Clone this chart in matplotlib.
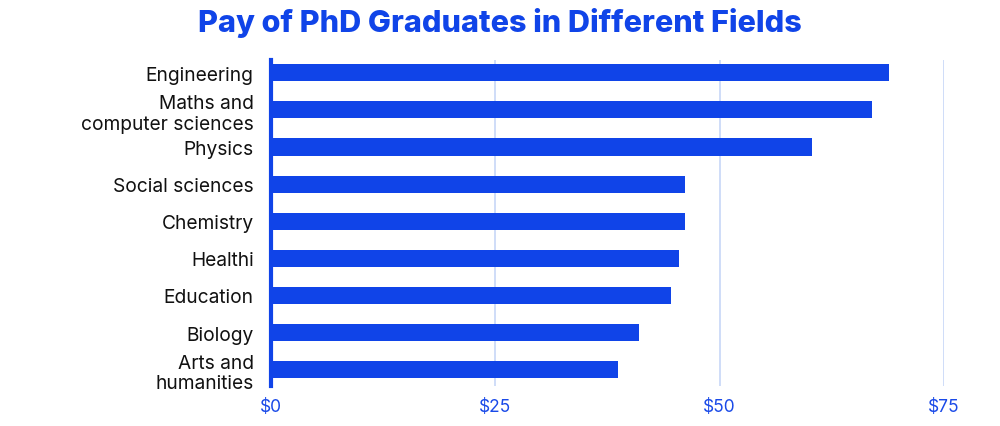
import matplotlib
matplotlib.use("Agg")
import matplotlib.pyplot as plt

categories = ["Engineering", "Maths and\ncomputer sciences", "Physics", "Social sciences",
              "Chemistry", "Healthi", "Education", "Biology", "Arts and\nhumanities"]
pay = [68.9, 67.0, 60.3, 46.1, 46.1, 45.5, 44.6, 41.0, 38.7]
xticks = [0, 25, 50, 75]
xtick_labels = ["$0", "$25", "$50", "$75"]

BLUE = "#1044E8"
TICK_BLUE = "#1A4AE8"
GRID = "#CCDAF8"

plt.rcParams['font.family'] = ['Inter', 'DejaVu Sans']

fig = plt.figure(figsize=(10, 4.27), dpi=100)
ax = fig.add_axes([0.271, 0.0937, 0.673, 0.763])

ypos = list(range(len(categories)))
ax.barh(ypos, pay, height=0.46, color=BLUE, zorder=3)
ax.set_ylim(len(categories) - 1 + 0.44, -0.34)
ax.set_xlim(0, 75)

ax.set_xticks(xticks)
ax.set_xticklabels(xtick_labels, color=TICK_BLUE, fontsize=12.5)
ax.set_yticks(ypos)
ax.set_yticklabels(categories, fontsize=13.8, color="#111111", linespacing=1.2)
ax.tick_params(axis='both', length=0)
ax.tick_params(axis='y', pad=12.5)
ax.tick_params(axis='x', pad=9)

ax.grid(axis='x', color=GRID, linewidth=1.3, zorder=0)
for s in ['top', 'right', 'bottom']:
    ax.spines[s].set_visible(False)
ax.spines['left'].set_color(BLUE)
ax.spines['left'].set_linewidth(3)
ax.spines['left'].set_zorder(4)

fig.text(0.5, 0.945, "Pay of PhD Graduates in Different Fields", ha='center', va='center',
         fontsize=22, fontweight='heavy', color=BLUE)

fig.savefig("out.png", dpi=100)
